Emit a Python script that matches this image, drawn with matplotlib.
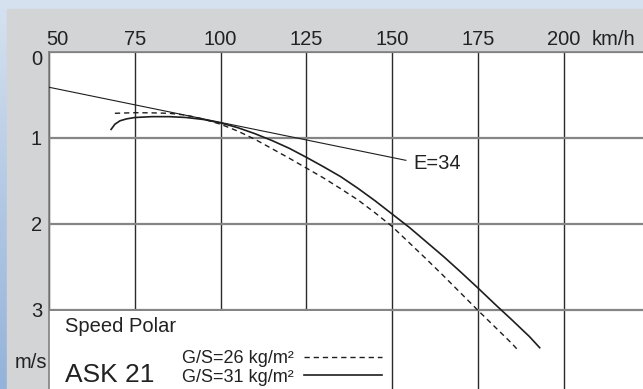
import numpy as np
import matplotlib
matplotlib.use('Agg')
import matplotlib.pyplot as plt
from matplotlib.patches import Rectangle
from matplotlib.lines import Line2D
from matplotlib.colors import LinearSegmentedColormap
from matplotlib.transforms import ScaledTranslation

plt.rcParams['font.family'] = ['Liberation Sans', 'DejaVu Sans']

# speed polar of the ASK 21, speed in km/h, sink in m/s
v_26 = [69.2, 75, 80, 85, 90, 95, 100, 105, 110, 115, 120, 125, 130, 135,
        140, 145, 150, 155, 160, 165, 170, 175, 180, 185, 186.7]
s_26 = [0.713, 0.706, 0.708, 0.713, 0.735, 0.78, 0.84, 0.92, 1.015, 1.125, 1.235, 1.35, 1.465, 1.59,
        1.72, 1.87, 2.03, 2.22, 2.41, 2.605, 2.805, 3.005, 3.2, 3.395, 3.47]
v_31 = [68.1, 69.2, 70.7, 72.6, 75, 80, 85, 90, 95, 100, 105, 110, 115, 120,
        125, 130, 135, 140, 145, 150, 155, 160, 165, 170, 175, 180, 185, 190, 193]
s_31 = [0.90, 0.84, 0.80, 0.778, 0.762, 0.752, 0.752, 0.762, 0.785, 0.825, 0.88, 0.95, 1.03, 1.12,
        1.225, 1.335, 1.45, 1.585, 1.73, 1.885, 2.04, 2.21, 2.38, 2.56, 2.745, 2.935, 3.12, 3.31, 3.44]
# best glide tangent
v_e34 = [50, 154]
s_e34 = [0.41, 1.26]

x_ticks = [50, 75, 100, 125, 150, 175, 200]
y_ticks = [0, 1, 2, 3]
series_labels = ['G/S=26 kg/m\u00b2', 'G/S=31 kg/m\u00b2']

W, H = 643, 389
ink = '#1e1e1e'

fig = plt.figure(figsize=(W / 100, H / 100), dpi=100)

# sky background + grey panel
bg = fig.add_axes([0, 0, 1, 1], zorder=-10)
bg.axis('off')
sky = LinearSegmentedColormap.from_list('sky', ['#d6e2f0', '#b3c9e4', '#94b3da'])
grad = np.linspace(0, 1, 200)[:, None] * np.ones((1, 20))
bg.imshow(grad, cmap=sky, aspect='auto', extent=[0, 1, 0, 1])
bg.set_xlim(0, 1)
bg.set_ylim(0, 1)
bg.add_patch(Rectangle((7 / W, 0), 1, 1 - 9 / H, color='#d3d4d6'))

ax = fig.add_axes([49 / W, 0, 1 - 49 / W, (H - 52) / H])
ax.set_xlim(50, 223.1)
ax.set_ylim(3.92, 0)
ax.xaxis.tick_top()
ax.set_xticks(x_ticks)
ax.set_xticklabels([str(t) for t in x_ticks])
ax.set_yticks(y_ticks)
ax.tick_params(axis='both', length=0, labelsize=14.5, colors='#222222')
ax.tick_params(axis='x', pad=2)
ax.tick_params(axis='y', pad=5)
for s in ['right', 'bottom']:
    ax.spines[s].set_visible(False)
for s in ['top', 'left']:
    ax.spines[s].set_color('#808080')
    ax.spines[s].set_linewidth(1.2)

ax.set_axisbelow(True)
ax.xaxis.grid(True, color='#2a2a2a', lw=1.0)
ax.yaxis.grid(True, color='#858585', lw=1.6)

# nudge first labels off the corner
xl = ax.get_xticklabels()
xl[0].set_transform(xl[0].get_transform() + ScaledTranslation(0.08, 0, fig.dpi_scale_trans))
yl = ax.get_yticklabels()
yl[0].set_transform(yl[0].get_transform() + ScaledTranslation(0, -0.055, fig.dpi_scale_trans))

# white box for the title block
ax.add_patch(Rectangle((50, 3.012), 99.4, 1.0, facecolor='white', edgecolor='none', zorder=1))

ax.plot(v_31, s_31, color=ink, lw=1.2, zorder=3)
ax.plot(v_26, s_26, color=ink, lw=1.0, dashes=(3.8, 2.8), zorder=3)
ax.plot(v_e34, s_e34, color=ink, lw=0.8, zorder=3)

ax.text(156.1, 1.30, 'E=34', fontsize=14.5, va='center', ha='left', color='#222222')
ax.annotate('km/h', xy=(200, 0), xytext=(20, 5), textcoords='offset points',
            ha='left', va='baseline', fontsize=14.5, color='#222222', annotation_clip=False)
ax.annotate('m/s', xy=(0, 3.616), xycoords=('axes fraction', 'data'), xytext=(-1.5, 0),
            textcoords='offset points', ha='right', va='center', fontsize=14.5,
            color='#222222', annotation_clip=False)

ax.text(54.7, 3.256, 'Speed Polar', fontsize=14.5, va='baseline', color='#222222', zorder=4)
ax.text(54.7, 3.834, 'ASK 21', fontsize=19, va='baseline', color='#222222', zorder=4)

handles = [Line2D([], [], color=ink, lw=1.0, dashes=(3.8, 2.8)),
           Line2D([], [], color=ink, lw=1.2)]
leg = ax.legend(handles, series_labels, loc='upper left', bbox_to_anchor=(0.2234, 0.116),
                markerfirst=False, frameon=False, fontsize=13, handlelength=4.3,
                handletextpad=0.6, borderpad=0, borderaxespad=0, labelspacing=0.1)
for t in leg.get_texts():
    t.set_color('#222222')
leg.set_zorder(5)

fig.savefig('out.png', dpi=100)
